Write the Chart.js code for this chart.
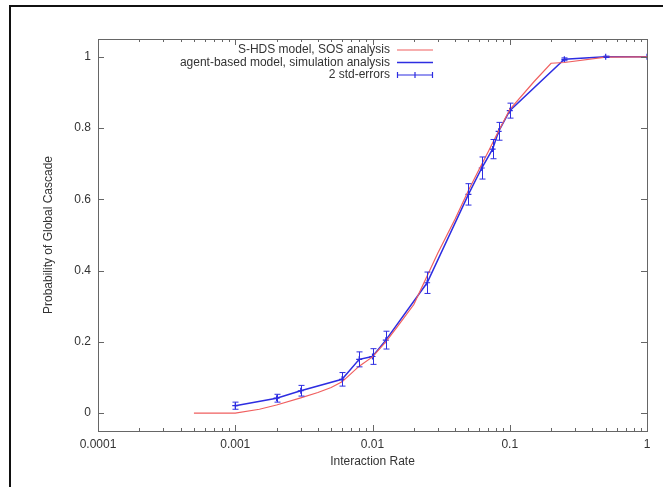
<!DOCTYPE html>
<html>
<head>
<meta charset="utf-8">
<script src="https://cdn.jsdelivr.net/npm/chart.js@4/dist/chart.umd.min.js"></script>
<style>
html, body { margin: 0; padding: 0; background: #fff; overflow: hidden; }
#wrap { position: relative; width: 663px; height: 487px; }
#frame { position: absolute; left: 9px; top: 5px; width: 700px; height: 600px; border: 2px solid #111; box-sizing: border-box; }
canvas { position: absolute; left: 0; top: 0; }
</style>
</head>
<body>
<div id="wrap">
  <div id="frame"></div>
  <canvas id="chart" width="663" height="487"></canvas>
</div>
<script>
// S-HDS model curve (SOS analysis)
const modelX = [0.0005, 0.001, 0.0015, 0.002, 0.003, 0.004, 0.005, 0.006, 0.008, 0.01, 0.0125, 0.015, 0.02, 0.025, 0.03, 0.04, 0.05, 0.06, 0.07, 0.08, 0.1, 0.15, 0.2, 0.25, 0.5, 1]
const modelY = [0, 0, 0.011, 0.023, 0.043, 0.058, 0.072, 0.088, 0.132, 0.158, 0.2, 0.24, 0.305, 0.385, 0.45, 0.545, 0.625, 0.685, 0.735, 0.78, 0.852, 0.93, 0.982, 0.984, 0.999, 1]

// agent-based model, simulation analysis (+ 2 std-errors)
const simX = [0.001, 0.002, 0.003, 0.006, 0.008, 0.01, 0.0125, 0.025, 0.05, 0.0625, 0.075, 0.083, 0.1, 0.25, 0.5, 1]
const simY = [0.021, 0.042, 0.063, 0.095, 0.151, 0.159, 0.205, 0.366, 0.614, 0.688, 0.741, 0.791, 0.849, 0.993, 1.0, 1.0]
const simErr = [0.01, 0.011, 0.015, 0.019, 0.021, 0.022, 0.025, 0.03, 0.03, 0.031, 0.027, 0.025, 0.021, 0.004, 0.002, 0]

const xTickLabels = ['0.0001', '0.001', '0.01', '0.1', '1']
const yTickLabels = ['0', '0.2', '0.4', '0.6', '0.8', '1']
const seriesNames = ['S-HDS model, SOS analysis', 'agent-based model, simulation analysis', '2 std-errors']

const redColor = 'rgb(240,95,95)'
const blueColor = 'rgb(45,45,225)'
const frameColor = '#666'
const fontFamily = "'Liberation Sans', Arial, sans-serif"

// gnuplot-ish frame, inward ticks, error bars and key
const gnuplotLook = {
  id: 'gnuplotLook',
  afterDatasetsDraw(chart) {
    const ctx = chart.ctx
    const a = chart.chartArea
    const xs = chart.scales.x
    const ys = chart.scales.y
    ctx.save()

    // error bars
    ctx.strokeStyle = blueColor
    ctx.lineWidth = 1
    simX.forEach((x, i) => {
      if (!simErr[i]) return
      const px = Math.round(xs.getPixelForValue(x)) + 0.5
      const top = ys.getPixelForValue(simY[i] + simErr[i])
      const bot = ys.getPixelForValue(simY[i] - simErr[i])
      ctx.beginPath()
      ctx.moveTo(px, top); ctx.lineTo(px, bot)
      ctx.moveTo(px - 3, top); ctx.lineTo(px + 3, top)
      ctx.moveTo(px - 3, bot); ctx.lineTo(px + 3, bot)
      ctx.stroke()
    })

    // frame
    ctx.strokeStyle = frameColor
    ctx.lineWidth = 1
    ctx.strokeRect(Math.round(a.left) + 0.5, Math.round(a.top) + 0.5, Math.round(a.right - a.left), Math.round(a.bottom - a.top))

    // x ticks (major + minor), bottom and top
    ctx.beginPath()
    xTickLabels.forEach((lbl, i) => {
      const d = Number(lbl)
      const px = Math.round(xs.getPixelForValue(d)) + 0.5
      ctx.moveTo(px, a.bottom); ctx.lineTo(px, a.bottom - 6)
      ctx.moveTo(px, a.top); ctx.lineTo(px, a.top + 6)
      if (i < xTickLabels.length - 1) {
        for (let k = 2; k <= 9; k++) {
          const mx = Math.round(xs.getPixelForValue(k * d)) + 0.5
          ctx.moveTo(mx, a.bottom); ctx.lineTo(mx, a.bottom - 3)
          ctx.moveTo(mx, a.top); ctx.lineTo(mx, a.top + 3)
        }
      }
    })
    // y ticks, left and right
    yTickLabels.forEach(lbl => {
      const py = Math.round(ys.getPixelForValue(Number(lbl))) + 0.5
      ctx.moveTo(a.left, py); ctx.lineTo(a.left + 6, py)
      ctx.moveTo(a.right, py); ctx.lineTo(a.right - 6, py)
    })
    ctx.stroke()

    // key
    const keyRight = 390
    const sx0 = 397, sx1 = 433
    const rows = [50, 62.5, 75]
    ctx.font = '12px ' + fontFamily
    ctx.fillStyle = '#333'
    ctx.textAlign = 'right'
    ctx.textBaseline = 'middle'
    seriesNames.forEach((name, i) => ctx.fillText(name, keyRight, rows[i]))
    ctx.lineWidth = 1.2
    ctx.strokeStyle = redColor
    ctx.beginPath(); ctx.moveTo(sx0, rows[0]); ctx.lineTo(sx1, rows[0]); ctx.stroke()
    ctx.lineWidth = 1.5
    ctx.strokeStyle = blueColor
    ctx.beginPath(); ctx.moveTo(sx0, rows[1]); ctx.lineTo(sx1, rows[1]); ctx.stroke()
    ctx.lineWidth = 1.2
    ctx.beginPath()
    ctx.moveTo(sx0, rows[2]); ctx.lineTo(sx1, rows[2])
    ctx.moveTo(sx0 + 0.5, rows[2] - 3); ctx.lineTo(sx0 + 0.5, rows[2] + 3)
    ctx.moveTo(sx1 - 0.5, rows[2] - 3); ctx.lineTo(sx1 - 0.5, rows[2] + 3)
    const mid = (sx0 + sx1) / 2
    ctx.moveTo(mid, rows[2] - 3); ctx.lineTo(mid, rows[2] + 3)
    ctx.stroke()

    ctx.restore()
  }
}

const data = {
  datasets: [{
    label: seriesNames[0],
    data: modelX.map((x, i) => ({ x: x, y: modelY[i] })),
    borderColor: redColor,
    borderWidth: 1.2,
    pointRadius: 0,
    tension: 0
  }, {
    label: seriesNames[1],
    data: simX.map((x, i) => ({ x: x, y: simY[i] })),
    borderColor: blueColor,
    backgroundColor: blueColor,
    borderWidth: 1.5,
    pointStyle: 'cross',
    pointRadius: 3,
    pointBorderWidth: 1.2,
    tension: 0
  }]
}

const config = {
  type: 'line',
  data: data,
  options: {
    responsive: false,
    animation: false,
    devicePixelRatio: 1,
    layout: { padding: { left: 37, top: 39, right: 16, bottom: 14 } },
    plugins: {
      legend: { display: false },
      tooltip: { enabled: false }
    },
    scales: {
      x: {
        type: 'logarithmic',
        min: 0.0001,
        max: 1,
        afterBuildTicks: s => { s.ticks = xTickLabels.map(t => ({ value: Number(t) })) },
        afterFit: s => { s.height = 42 },
        grid: { display: false, drawTicks: false },
        border: { display: false },
        ticks: {
          autoSkip: false,
          maxRotation: 0,
          padding: 6,
          color: '#333',
          font: { family: fontFamily, size: 12 },
          callback: (v, i) => xTickLabels[i]
        },
        title: {
          display: true,
          text: 'Interaction Rate',
          color: '#333',
          padding: 4,
          font: { family: fontFamily, size: 12 }
        }
      },
      y: {
        min: -0.05,
        max: 1.05,
        afterBuildTicks: s => { s.ticks = yTickLabels.map(t => ({ value: Number(t) })) },
        afterFit: s => { s.width = 61 },
        grid: { display: false, drawTicks: false },
        border: { display: false },
        ticks: {
          padding: 7,
          color: '#333',
          font: { family: fontFamily, size: 12 },
          callback: (v, i) => yTickLabels[i]
        },
        title: {
          display: true,
          text: 'Probability of Global Cascade',
          color: '#333',
          padding: 4,
          font: { family: fontFamily, size: 12 }
        }
      }
    }
  },
  plugins: [gnuplotLook]
}

let chart = new Chart(document.querySelector('#chart'), config)
</script>
</body>
</html>
